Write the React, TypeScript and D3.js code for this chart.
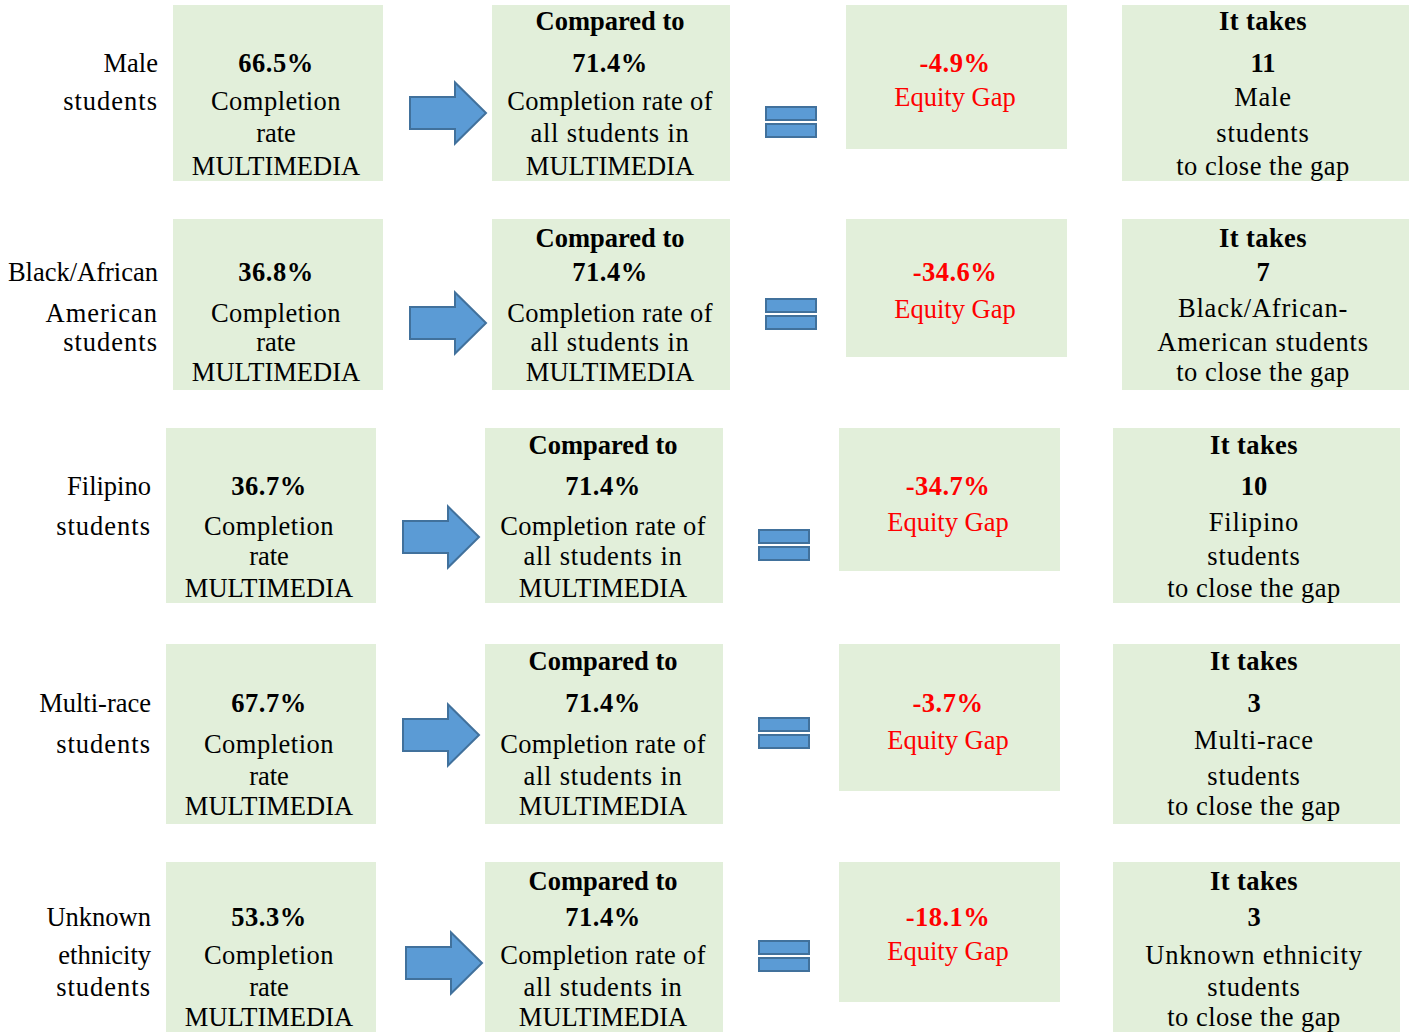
import React, { useRef, useEffect } from 'react';
import * as d3 from 'd3';

// group labels (left column), one entry per line
const groupLabels = [
  ['Male', 'students'],
  ['Black/African', 'American', 'students'],
  ['Filipino', 'students'],
  ['Multi-race', 'students'],
  ['Unknown', 'ethnicity', 'students']
];
const groupRates = [66.5, 36.8, 36.7, 67.7, 53.3];
const overallRate = 71.4;
const equityGaps = [-4.9, -34.6, -34.7, -3.7, -18.1];
const studentsNeeded = [11, 7, 10, 3, 3];
const closeGapLabels = [
  ['Male', 'students'],
  ['Black/African-', 'American students'],
  ['Filipino', 'students'],
  ['Multi-race', 'students'],
  ['Unknown ethnicity', 'students']
];
const programName = 'MULTIMEDIA';

// layout of each row (pixels)
const rowLayout = [
  { dx: 0, dx4: 0, top: 5, h: 176, h3: 144, base: [30, 72, 110, 142, 175], arrowCy: 113, arrowDx: 0, eqCy: 122, lift4: 4 },
  { dx: 0, dx4: 0, top: 219, h: 171, h3: 138, base: [247, 281, 322, 351, 381], arrowCy: 323, arrowDx: 0, eqCy: 314, lift4: 5 },
  { dx: -7, dx4: -2, top: 428, h: 175, h3: 143, base: [454, 495, 535, 565, 597], arrowCy: 537, arrowDx: 0, eqCy: 545, lift4: 4 },
  { dx: -7, dx4: -2, top: 644, h: 180, h3: 147, base: [670, 712, 753, 785, 815], arrowCy: 735, arrowDx: 0, eqCy: 733, lift4: 4 },
  { dx: -7, dx4: -2, top: 862, h: 175, h3: 140, base: [890, 926, 964, 996, 1026], arrowCy: 963, arrowDx: 3, eqCy: 956, lift4: 0 }
];

const W = 1411;
const H = 1032;
const FONT = '"Liberation Serif", "Times New Roman", serif';
const FS = 26.5;
const BOX_FILL = '#E2EFDA';
const BLUE = '#5B9BD5';
const BLUE_STROKE = '#41719C';

export default function App(): JSX.Element {
  const svgRef = useRef<SVGSVGElement>(null);
  useEffect(() => {
    const el = svgRef.current;
    if (el == null) {
      return;
    }
    const svg = d3.select(el);
    svg.selectAll('*').remove();

    const cols = {
      labelRight: 158,
      b1: { x: 173, w: 210, cx: 276 },
      arrow: { x: 410, w: 76 },
      b2: { x: 492, w: 238, cx: 610 },
      eq: { x: 766, w: 50 },
      b3: { x: 846, w: 221, cx: 955 },
      b4: { x: 1122, w: 287, cx: 1263 }
    };

    const text = (
      g: d3.Selection<SVGGElement, unknown, null, undefined>,
      x: number,
      y: number,
      s: string,
      opts: { bold?: boolean; color?: string; anchor?: string; spacing?: number } = {}
    ) => {
      g.append('text')
        .attr('x', x)
        .attr('y', y)
        .attr('text-anchor', opts.anchor || 'middle')
        .attr('font-family', FONT)
        .attr('font-size', FS)
        .attr('font-weight', opts.bold ? 'bold' : 'normal')
        .attr('fill', opts.color || '#000')
        .style('letter-spacing', `${opts.spacing || 0}px`)
        .text(s);
    };

    const fmt = (v: number) => `${v.toFixed(1)}%`;

    groupLabels.forEach((label, i) => {
      const L = rowLayout[i];
      const g = svg.append('g');
      const b = L.base;

      // boxes
      g.append('rect').attr('x', cols.b1.x + L.dx).attr('y', L.top).attr('width', cols.b1.w).attr('height', L.h).attr('fill', BOX_FILL);
      g.append('rect').attr('x', cols.b2.x + L.dx).attr('y', L.top).attr('width', cols.b2.w).attr('height', L.h).attr('fill', BOX_FILL);
      g.append('rect').attr('x', cols.b3.x + L.dx).attr('y', L.top).attr('width', cols.b3.w).attr('height', L.h3).attr('fill', BOX_FILL);
      g.append('rect').attr('x', cols.b4.x + L.dx + L.dx4).attr('y', L.top).attr('width', cols.b4.w).attr('height', L.h).attr('fill', BOX_FILL);

      // row label
      label.forEach((line, k) => {
        text(g, cols.labelRight + L.dx, b[1 + k], line, {
          anchor: 'end',
          spacing: line === 'students' || line === 'American' ? 1 : 0
        });
      });

      // group completion rate
      text(g, cols.b1.cx + L.dx, b[1], fmt(groupRates[i]), { bold: true, spacing: 0.5 });
      text(g, cols.b1.cx + L.dx, b[2], 'Completion', { spacing: 0.5 });
      text(g, cols.b1.cx + L.dx, b[3], 'rate');
      text(g, cols.b1.cx + L.dx, b[4], programName);

      // arrow
      const ax = cols.arrow.x + L.dx + L.arrowDx;
      const ay = L.arrowCy;
      const arrow = d3.path();
      arrow.moveTo(ax, ay - 16);
      arrow.lineTo(ax + 45, ay - 16);
      arrow.lineTo(ax + 45, ay - 30.5);
      arrow.lineTo(ax + cols.arrow.w, ay);
      arrow.lineTo(ax + 45, ay + 30.5);
      arrow.lineTo(ax + 45, ay + 16);
      arrow.lineTo(ax, ay + 16);
      arrow.closePath();
      g.append('path').attr('d', arrow.toString()).attr('fill', BLUE).attr('stroke', BLUE_STROKE).attr('stroke-width', 2);

      // overall rate
      text(g, cols.b2.cx + L.dx, b[0], 'Compared to', { bold: true });
      text(g, cols.b2.cx + L.dx, b[1], fmt(overallRate), { bold: true, spacing: 0.5 });
      text(g, cols.b2.cx + L.dx, b[2], 'Completion rate of', { spacing: 0.3 });
      text(g, cols.b2.cx + L.dx, b[3], 'all students in', { spacing: 0.8 });
      text(g, cols.b2.cx + L.dx, b[4], programName);

      // equals sign
      const ex = cols.eq.x + L.dx;
      g.append('rect').attr('x', ex).attr('y', L.eqCy - 15).attr('width', cols.eq.w).attr('height', 13)
        .attr('fill', BLUE).attr('stroke', BLUE_STROKE).attr('stroke-width', 2);
      g.append('rect').attr('x', ex).attr('y', L.eqCy + 2).attr('width', cols.eq.w).attr('height', 13)
        .attr('fill', BLUE).attr('stroke', BLUE_STROKE).attr('stroke-width', 2);

      // equity gap
      text(g, cols.b3.cx + L.dx, b[1], fmt(equityGaps[i]), { bold: true, color: '#FF0000', spacing: 0.5 });
      text(g, cols.b3.cx + L.dx, b[2] - 4, 'Equity Gap', { color: '#FF0000' });

      // students needed
      const cx4 = cols.b4.cx + L.dx + L.dx4;
      text(g, cx4, b[0], 'It takes', { bold: true, spacing: 0.4 });
      text(g, cx4, b[1], String(studentsNeeded[i]), { bold: true });
      const cl = closeGapLabels[i];
      text(g, cx4, b[2] - L.lift4, cl[0], { spacing: 0.8 });
      text(g, cx4, b[3], cl[1], { spacing: 0.8 });
      text(g, cx4, b[4], 'to close the gap', { spacing: 0.5 });
    });
  }, []);
  return (
    <div style={{ position: 'absolute', left: 0, top: 0, width: W, height: H, background: '#fff' }}>
      <svg ref={svgRef} width={W} height={H} style={{ display: 'block' }} />
    </div>
  );
}
